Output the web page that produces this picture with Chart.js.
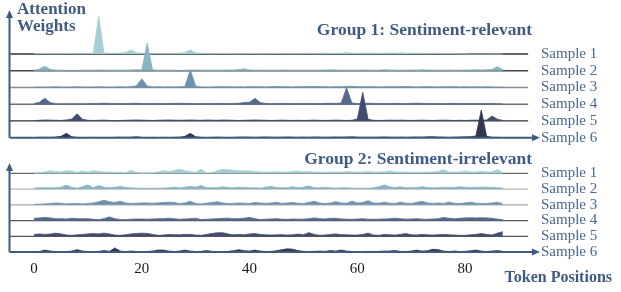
<!DOCTYPE html>
<html>
<head>
<meta charset="utf-8">
<script src="https://cdn.jsdelivr.net/npm/chart.js@4.4.0/dist/chart.umd.min.js"></script>
<style>
  html, body { margin: 0; padding: 0; background: #fff; }
  #wrap { position: relative; width: 621px; height: 292px; }
  canvas { position: absolute; left: 0; top: 0; }
</style>
</head>
<body>
<div id="wrap">
  <canvas id="group1" width="621" height="292"></canvas>
  <canvas id="group2" width="621" height="292"></canvas>
</div>
<script>
// token positions 0..87
const tokens = Array.from({ length: 88 }, (_, i) => i);
const xTicks = [0, 20, 40, 60, 80];
const sampleLabels = ['Sample 1', 'Sample 2', 'Sample 3', 'Sample 4', 'Sample 5', 'Sample 6'];

// attention weights x1000, group 1 (sentiment-relevant)
const g1s1 = [3,3,4,3,2,3,4,3,3,2, 3,6,227,6,3,3,5,10,24,8, 3,2,3,4,3,2,3,4,9,24, 8,3,4,2,3,3,4,3,2,3,
              4,3,2,3,4,3,5,3,2,3, 4,5,3,4,6,4,3,5,9,5, 4,5,6,5,4,5,6,5,8,6, 4,5,4,3,4,5,3,4,3,2, 1,0,0,0,0,0,0,0];
const g1s2 = [3,10,27,9,3,4,3,2,3,4, 3,4,5,4,3,4,3,4,5,6, 6,165,6,4,3,4,3,2,3,4, 5,4,3,4,3,4,5,4,8,12,
              5,4,3,4,3,4,5,4,3,4, 3,4,3,4,5,6,5,4,3,4, 4,5,4,3,4,6,5,4,3,4, 5,4,6,5,4,3,4,5,4,3, 4,5,6,5,6,8,25,6];
const g1s3 = [2,3,2,3,4,3,2,3,4,3, 2,3,4,3,2,3,4,3,5,10, 52,9,3,4,3,4,3,4,6,105, 8,3,2,3,4,5,4,3,4,3,
              4,5,4,3,5,6,5,4,3,5, 4,5,6,5,4,3,5,4,6,7, 5,4,5,4,3,4,5,4,5,6, 4,3,4,5,4,3,4,5,4,3, 4,3,4,3,4,3,2,2];
const g1s4 = [4,12,36,10,3,2,3,2,3,2, 3,4,5,6,5,4,3,4,5,6, 4,3,5,4,3,4,5,6,5,4, 3,4,3,4,5,4,3,5,6,10,
              12,35,10,4,3,4,5,4,3,4, 5,4,3,4,5,6,5,7,98,7, 4,5,6,5,4,3,4,5,4,3, 5,6,5,4,3,4,3,4,5,4, 3,4,3,4,3,4,3,2];
const g1s5 = [2,4,6,5,4,3,6,12,43,10, 4,3,4,5,3,2,3,4,5,6, 5,4,3,4,5,6,5,4,5,6, 5,4,6,5,4,6,5,4,3,4,
              5,6,5,4,3,4,5,4,3,4, 3,4,5,4,3,4,5,4,3,4, 12,171,10,4,3,4,5,4,5,4, 3,4,5,4,3,4,5,4,3,4, 3,4,5,4,6,30,10,3];
const g1s6 = [1,2,3,2,4,8,26,6,2,1, 1,2,1,2,1,2,3,2,3,6, 2,1,2,1,2,1,2,3,8,26, 6,2,1,2,3,2,1,2,3,4,
              3,2,3,4,3,2,3,4,3,2, 3,2,4,3,2,3,4,3,4,5, 3,2,3,2,3,4,3,2,3,2, 3,4,3,5,6,4,3,2,3,4, 5,6,10,165,8,3,2,1];

// attention weights x1000, group 2 (sentiment-irrelevant)
const g2s1 = [3,6,9,17,12,9,17,15,6,15, 9,17,12,9,9,6,6,3,20,6, 2,2,3,9,17,12,18,26,17,12, 6,26,3,6,17,26,23,20,17,17,
              15,12,9,8,9,10,9,8,12,15, 9,12,8,9,6,8,9,7,12,9, 8,9,12,9,8,10,15,9,8,9, 6,7,6,8,9,12,24,9,8,9, 15,9,8,12,9,10,24,6];
const g2s2 = [6,8,9,8,9,12,25,12,6,15, 26,10,23,12,9,12,17,10,8,6, 6,4,5,6,6,9,12,8,12,17, 12,23,10,8,9,15,10,8,12,10,
              8,9,6,12,17,10,8,9,15,9, 12,20,9,8,12,8,6,8,9,6, 6,6,5,9,15,26,15,10,15,9, 8,10,15,10,8,9,12,9,10,15, 12,10,12,12,12,10,9,6];
const g2s3 = [3,4,6,9,12,10,6,8,9,6, 8,12,20,29,20,15,23,12,9,10, 12,12,10,12,15,17,15,8,12,23, 8,6,10,15,20,12,8,9,12,10,
              9,15,12,9,12,17,9,12,15,10, 9,15,23,12,8,12,20,12,10,23, 12,15,26,12,10,17,10,9,17,10, 9,15,23,12,8,12,9,17,10,8, 12,17,10,9,8,12,17,6];
const g2s4 = [14,17,20,17,12,12,10,14,12,12, 12,8,6,12,23,12,6,6,9,10, 10,9,10,12,12,15,12,9,10,12, 15,6,8,10,12,14,15,12,12,15,
              20,12,6,9,10,12,9,8,10,9, 9,12,17,12,10,14,15,10,9,8, 10,12,9,8,9,10,12,15,12,9, 10,12,9,8,10,12,20,15,12,14, 17,18,17,18,17,14,9,6];
const g2s5 = [12,15,12,14,20,15,8,6,9,12, 15,17,15,20,15,8,6,10,15,18, 20,18,12,6,8,12,10,9,12,12, 8,6,12,18,22,23,15,9,12,9,
              15,17,12,9,8,9,10,8,9,14, 10,23,12,6,8,12,15,10,9,8, 8,12,20,8,6,12,9,8,12,17, 10,8,12,9,8,10,12,9,8,6, 6,9,12,17,12,8,20,29];
const g2s6 = [2,3,12,6,3,2,3,6,15,6, 3,2,4,9,4,26,6,3,6,3, 2,3,6,12,12,6,3,6,12,6, 3,4,9,4,3,2,4,8,15,8,
              6,12,6,3,4,8,15,20,18,9, 4,3,4,6,4,9,6,12,6,3, 2,3,4,3,4,6,6,9,4,3, 6,12,6,8,17,15,6,3,6,3, 4,8,12,6,3,6,9,4];

const ROW_GAP = 0.1;      // vertical offset between ridges, weight units
const X_MIN = -4.55, X_MAX = 93.9, LINE_END = 91.7;

const sampleColors = ['#a5cfd5', '#88b5c4', '#6d90ad', '#55698e', '#414c6e', '#30374f'];
const AXIS = '#3d5a80';
const LABEL = '#4b6790';
const SERIF = '"Liberation Serif", "DejaVu Serif", serif';

function buildDatasets(series, baseColors) {
  const n = series.length;
  const out = [];
  series.forEach((vals, k) => {
    const off = (n - 1 - k) * ROW_GAP;
    out.push({
      data: vals.map((v, i) => ({ x: tokens[i], y: off + v / 1000 })),
      fill: { value: off },
      backgroundColor: sampleColors[k],
      borderColor: sampleColors[k],
      borderWidth: 0.8,
      pointRadius: 0,
      tension: 0,
      order: n - k
    });
    if (k < n - 1) {
      out.push({
        data: [{ x: X_MIN, y: off }, { x: LINE_END, y: off }],
        borderColor: baseColors[k],
        borderWidth: 1.3,
        pointRadius: 0,
        fill: false,
        order: 20
      });
    }
  });
  return out;
}

function decor(title, titleY, extra) {
  return {
    id: 'decor',
    afterDatasetsDraw(chart) {
      const { ctx, chartArea: a, scales: { y } } = chart;
      ctx.save();
      ctx.strokeStyle = AXIS;
      ctx.fillStyle = AXIS;
      ctx.lineWidth = 2;
      ctx.beginPath();
      ctx.moveTo(a.left, a.bottom); ctx.lineTo(a.left, a.top + 6);
      ctx.moveTo(a.left, a.bottom); ctx.lineTo(a.right - 6, a.bottom);
      ctx.stroke();
      ctx.beginPath();
      ctx.moveTo(a.left, a.top); ctx.lineTo(a.left - 3.5, a.top + 8); ctx.lineTo(a.left + 3.5, a.top + 8);
      ctx.closePath(); ctx.fill();
      ctx.beginPath();
      ctx.moveTo(a.right, a.bottom); ctx.lineTo(a.right - 8, a.bottom - 3.5); ctx.lineTo(a.right - 8, a.bottom + 3.5);
      ctx.closePath(); ctx.fill();

      ctx.font = '15px ' + SERIF;
      ctx.fillStyle = LABEL;
      ctx.textAlign = 'left';
      ctx.textBaseline = 'middle';
      sampleLabels.forEach((s, k) => {
        ctx.fillText(s, a.right + 1, y.getPixelForValue((sampleLabels.length - 1 - k) * ROW_GAP));
      });

      ctx.font = 'bold 17.5px ' + SERIF;
      ctx.fillStyle = '#3f5b83';
      ctx.textAlign = 'right';
      ctx.textBaseline = 'alphabetic';
      ctx.fillText(title, 532, titleY);
      if (extra) extra(ctx);
      ctx.restore();
    }
  };
}

function baseOptions(pad, yMax, showX) {
  return {
    responsive: false,
    animation: false,
    events: [],
    layout: { padding: pad },
    plugins: { legend: { display: false }, tooltip: { enabled: false } },
    scales: {
      x: {
        type: 'linear', min: X_MIN, max: X_MAX, display: showX,
        grid: { display: false, drawTicks: false },
        border: { display: false },
        afterBuildTicks: s => { s.ticks = xTicks.map(v => ({ value: v })); },
        ticks: { color: '#1a1a1a', padding: 8, font: { family: SERIF, size: 15 } }
      },
      y: { type: 'linear', min: 0, max: yMax, display: false }
    }
  };
}

new Chart(document.getElementById('group1'), {
  type: 'line',
  data: { datasets: buildDatasets([g1s1, g1s2, g1s3, g1s4, g1s5, g1s6],
    ['#333333', '#444444', '#8a8a8a', '#707070', '#2c2c38']) },
  options: baseOptions({ left: 9.5, right: 81, top: 10, bottom: 154.3 }, 0.763, false),
  plugins: [decor('Group 1: Sentiment-relevant', 35, ctx => {
    ctx.font = 'bold 17px ' + SERIF;
    ctx.textAlign = 'left';
    ctx.fillText('Attention', 17, 14);
    ctx.fillText('Weights', 17, 30.5);
  })]
});

new Chart(document.getElementById('group2'), {
  type: 'line',
  data: { datasets: buildDatasets([g2s1, g2s2, g2s3, g2s4, g2s5, g2s6],
    ['#666666', '#b8b8b8', '#aaaaaa', '#555555', '#555555']) },
  options: baseOptions({ left: 9.5, right: 81, top: 163, bottom: 6 }, 0.566, true),
  plugins: [decor('Group 2: Sentiment-irrelevant', 164, ctx => {
    ctx.font = 'bold 16px ' + SERIF;
    ctx.textAlign = 'right';
    ctx.fillText('Token Positions', 612, 281.7);
  })]
});
</script>
</body>
</html>
